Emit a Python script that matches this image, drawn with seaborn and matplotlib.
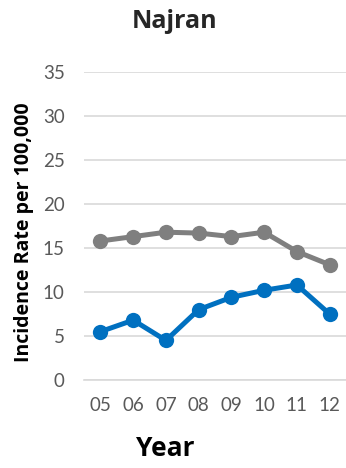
import matplotlib
matplotlib.use("Agg")
import matplotlib.pyplot as plt
import seaborn as sns
import pandas as pd
import numpy as np

years = ["05", "06", "07", "08", "09", "10", "11", "12"]
najran_gray = [15.8, 16.3, 16.8, 16.7, 16.3, 16.8, 14.6, 13.1]
najran_blue = [5.5, 6.8, 4.5, 8.0, 9.4, 10.2, 10.8, 7.5]
series_names = ["gray", "blue"]
series_colors = ["#7f7f7f", "#0070c0"]

sns.set_theme(style="white")
plt.rcParams["font.family"] = ["Lato", "DejaVu Sans"]
bold_font = ["Open Sans", "DejaVu Sans"]

df = pd.DataFrame({
    "idx": list(range(len(years))) * 2,
    "rate": najran_gray + najran_blue,
    "series": [series_names[0]] * len(years) + [series_names[1]] * len(years),
})

fig = plt.figure(figsize=(3.46, 4.68), dpi=100)
ax = fig.add_axes([0.243, 0.188, 0.757, 0.658])

sns.lineplot(data=df, x="idx", y="rate", hue="series", palette=series_colors,
             marker="o", markersize=11, markeredgewidth=0, linewidth=3.6,
             legend=False, ax=ax, zorder=3)

ax.set_xlim(-0.5, len(years) - 0.5)
ax.set_ylim(0, 35)
ax.set_yticks(np.arange(0, 36, 5))
ax.set_xticks(range(len(years)))
ax.set_xticklabels(years)
ax.set_xticks(np.arange(-0.5, len(years), 1.0), minor=True)
ax.tick_params(axis="x", which="major", length=0, pad=12, labelsize=13.5, labelcolor="#595959")
ax.tick_params(axis="x", which="minor", length=5, width=1, color="#d9d9d9")
ax.tick_params(axis="y", length=0, pad=14, labelsize=13.5, labelcolor="#595959")

ax.grid(axis="y", color="#d9d9d9", linewidth=1.2)
ax.set_axisbelow(True)
for s in ["top", "right", "left"]:
    ax.spines[s].set_visible(False)
ax.spines["bottom"].set_color("#d9d9d9")
ax.spines["bottom"].set_linewidth(1.2)

ax.set_xlabel("Year", fontsize=19, fontweight="bold", color="black", family=bold_font)
ax.xaxis.set_label_coords(0.31, -0.18)
ax.set_ylabel("Incidence Rate per 100,000", fontsize=14, fontweight="bold",
              color="black", family=bold_font)
ax.yaxis.set_label_coords(-0.19, 0.48)
fig.text(0.505, 0.953, "Najran", ha="center", va="center", fontsize=18,
         fontweight="bold", family=bold_font)

fig.savefig("out.png", dpi=100)
